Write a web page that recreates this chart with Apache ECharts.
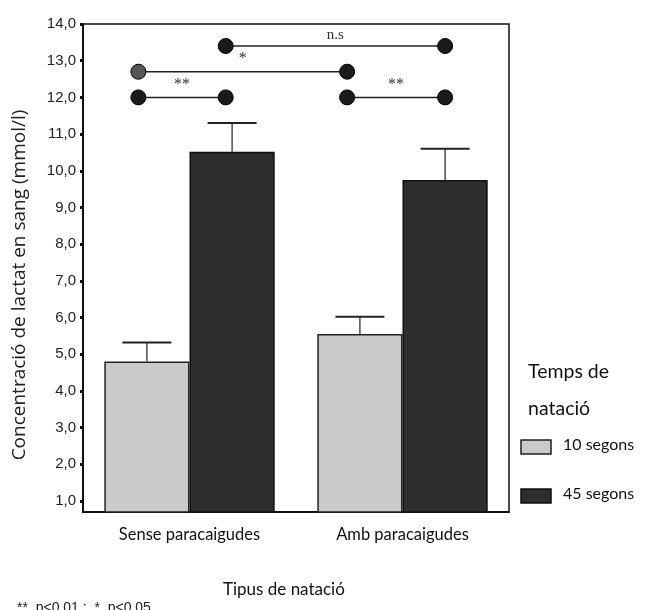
<!DOCTYPE html>
<html>
<head>
<meta charset="utf-8">
<script src="https://cdn.jsdelivr.net/npm/echarts@6/dist/echarts.min.js"></script>
<style>html,body{margin:0;padding:0;background:#fff;}#c{width:654px;height:610px;}</style>
</head>
<body>
<div id="c"></div>
<script>
// ---- data ----
const categories = ['Sense paracaigudes', 'Amb paracaigudes'];
const seriesNames = ['10 segons', '45 segons'];
const mean10 = [4.80, 5.55];
const mean45 = [10.52, 9.75];
const upper10 = [5.32, 6.02];   // mean + error
const upper45 = [11.30, 10.60];
const yTicks = [1, 2, 3, 4, 5, 6, 7, 8, 9, 10, 11, 12, 13, 14];
const yTitle = 'Concentració de lactat en sang (mmol/l)';
// significance brackets: x in category units (0..2), y in mmol/l
const bracketX1 = [0.26, 0.26, 0.67, 1.24];
const bracketX2 = [0.67, 1.24, 1.70, 1.70];
const bracketY = [12.0, 12.7, 13.4, 12.0];
const bracketLabel = ['**', '*', 'n.s', '**'];

// ---- style ----
const LIGHT = '#cacaca';
const DARK = '#2e2e2e';
const SANS = 'Liberation Sans, Arial, sans-serif';
const OPEN = 'Open Sans, sans-serif';
const GILL = 'Lato, Open Sans, sans-serif';
const SERIF = 'Liberation Serif, DejaVu Serif, serif';

const chart = echarts.init(document.getElementById('c'), null, {renderer: 'canvas'});

const errData = [];
for (let i = 0; i < categories.length; i++) {
  errData.push([i + 0.5 - 0.2, mean10[i], upper10[i]]);
  errData.push([i + 0.5 + 0.2, mean45[i], upper45[i]]);
}
const brData = bracketX1.map((x, i) => [x, bracketX2[i], bracketY[i], i]);
const circleFill = ['#1a1a1a', '#555555', '#1a1a1a', '#1a1a1a'];

chart.setOption({
  animation: false,
  backgroundColor: '#fff',
  grid: {left: 83, top: 24, width: 426, height: 488, show: true, borderColor: '#111', borderWidth: 1.5, backgroundColor: 'transparent'},
  xAxis: [
    {
      type: 'category', data: categories, boundaryGap: true,
      axisLine: {lineStyle: {color: '#111', width: 2}},
      axisTick: {alignWithLabel: true, length: 3, lineStyle: {color: '#111', width: 3}},
      axisLabel: {fontFamily: GILL, fontSize: 16.5, color: '#111', margin: 14}
    },
    {type: 'value', min: 0, max: 2, show: false}
  ],
  yAxis: {
    type: 'value', min: 0.7, max: 14,
    axisLine: {show: true, lineStyle: {color: '#111', width: 2}},
    axisTick: {show: true, customValues: yTicks, length: 3, lineStyle: {color: '#111', width: 3}},
    axisLabel: {customValues: yTicks, fontFamily: SANS, fontSize: 15, color: '#222', margin: 7,
      formatter: v => v.toFixed(1).replace('.', ',')},
    splitLine: {show: false}
  },
  series: [
    {
      name: seriesNames[0], type: 'bar', data: mean10, barWidth: '40%', barGap: '0%', clip: true,
      itemStyle: {color: LIGHT, borderColor: '#222', borderWidth: 1.5}
    },
    {
      name: seriesNames[1], type: 'bar', data: mean45, barWidth: '40%', barGap: '0%', clip: true,
      itemStyle: {color: DARK, borderColor: '#111', borderWidth: 1.5}
    },
    {
      type: 'custom', xAxisIndex: 1, data: errData, z: 5,
      renderItem: function (params, api) {
        const x = api.value(0);
        const p0 = api.coord([x, api.value(1)]);
        const p1 = api.coord([x, api.value(2)]);
        const half = (api.coord([x + 0.115, 0])[0] - api.coord([x, 0])[0]);
        return {type: 'group', children: [
          {type: 'line', shape: {x1: p0[0], y1: p0[1], x2: p1[0], y2: p1[1]}, style: {stroke: '#333', lineWidth: 1.3}},
          {type: 'line', shape: {x1: p1[0] - half, y1: p1[1], x2: p1[0] + half, y2: p1[1]}, style: {stroke: '#222', lineWidth: 2}}
        ]};
      }
    },
    {
      type: 'custom', xAxisIndex: 1, data: brData, z: 6,
      renderItem: function (params, api) {
        const a = api.coord([api.value(0), api.value(2)]);
        const b = api.coord([api.value(1), api.value(2)]);
        const idx = api.value(3);
        const lab = bracketLabel[idx];
        const mid = (a[0] + b[0]) / 2;
        return {type: 'group', children: [
          {type: 'line', shape: {x1: a[0], y1: a[1], x2: b[0], y2: b[1]}, style: {stroke: '#222', lineWidth: 1.5}},
          {type: 'circle', shape: {cx: a[0], cy: a[1], r: 7.5}, style: {fill: circleFill[idx], stroke: '#000', lineWidth: 1}},
          {type: 'circle', shape: {cx: b[0], cy: b[1], r: 7.5}, style: {fill: '#1a1a1a', stroke: '#000', lineWidth: 1}},
          {type: 'text', x: mid, y: a[1] - (lab === 'n.s' ? 3 : 5), style: {text: lab, fontFamily: SERIF, fontSize: lab === 'n.s' ? 15 : 16, fill: '#333', align: 'center', verticalAlign: 'bottom'}}
        ]};
      }
    }
  ],
  graphic: [
    {type: 'text', x: 20, y: 285, rotation: Math.PI / 2, style: {text: yTitle, fontFamily: OPEN, fontSize: 19, fill: '#222', align: 'center', verticalAlign: 'middle'}},
    {type: 'text', left: 528, top: 362, style: {text: 'Temps de', fontFamily: GILL, fontSize: 19.5, fill: '#111'}},
    {type: 'text', left: 528, top: 399, style: {text: 'natació', fontFamily: GILL, fontSize: 19.5, fill: '#111'}},
    {type: 'rect', shape: {x: 521, y: 440, width: 30, height: 14}, style: {fill: LIGHT, stroke: '#222', lineWidth: 1.5}},
    {type: 'text', left: 563, top: 437, style: {text: seriesNames[0], fontFamily: GILL, fontSize: 16, fill: '#111'}},
    {type: 'rect', shape: {x: 521, y: 489, width: 30, height: 14}, style: {fill: DARK, stroke: '#111', lineWidth: 1.5}},
    {type: 'text', left: 563, top: 486, style: {text: seriesNames[1], fontFamily: GILL, fontSize: 16, fill: '#111'}},
    {type: 'text', left: 223, top: 581, style: {text: 'Tipus de natació', fontFamily: GILL, fontSize: 17, fill: '#111'}},
    {type: 'text', left: 17, top: 601, style: {text: '**  p<0,01 ;  *  p<0,05', fontFamily: SANS, fontSize: 14, fill: '#222'}}
  ]
});
</script>
</body>
</html>
